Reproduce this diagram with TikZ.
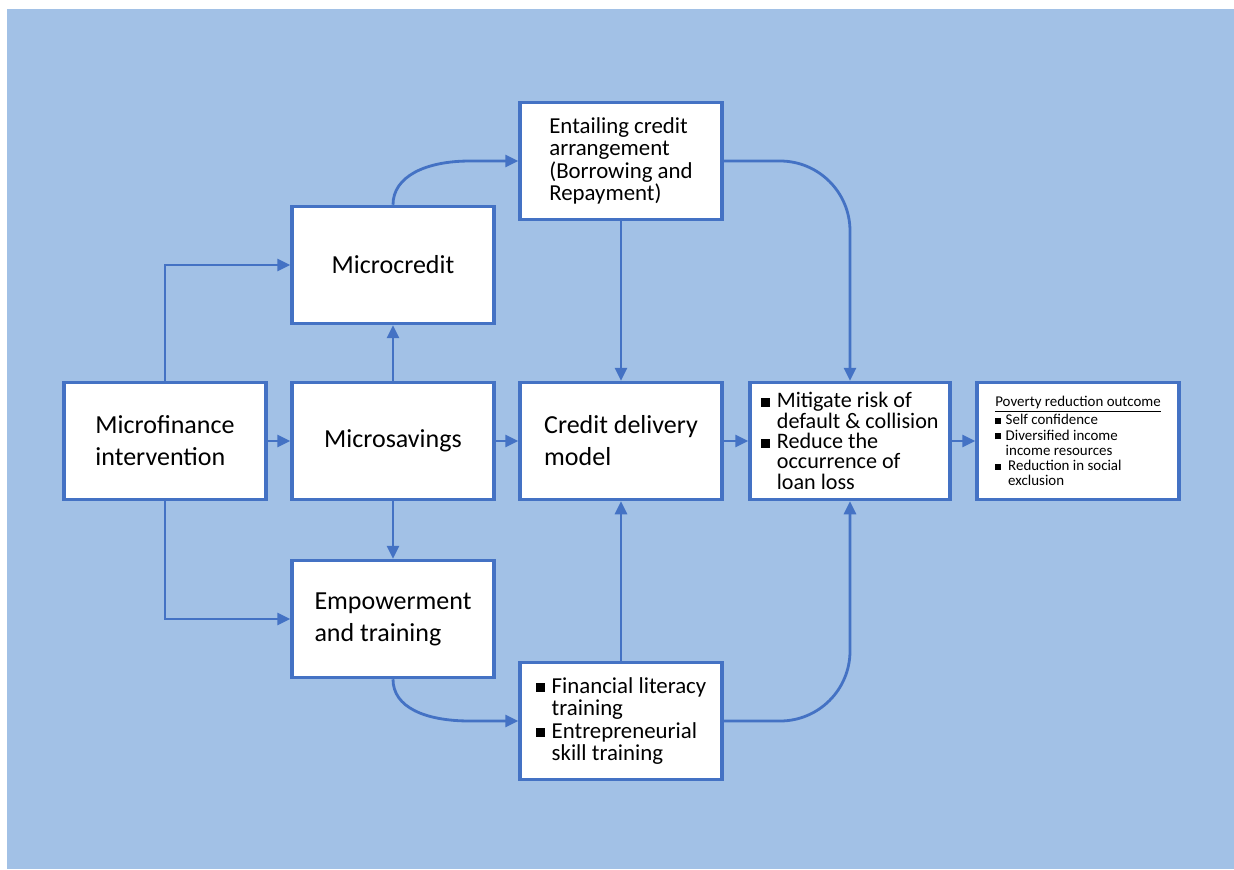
\documentclass[tikz,border=0pt]{standalone}
\usepackage{fontspec}
\setmainfont{Carlito}
\usetikzlibrary{arrows.meta}
\definecolor{bgblue}{RGB}{162,193,230}
\definecolor{lineblue}{RGB}{68,114,196}
\newcommand{\sqb}{\rule[0.1ex]{0.4em}{0.4em}\hspace{0.3em}}
\newcommand{\sqgap}{\phantom{\sqb}}

\begin{document}
\begin{tikzpicture}[x=0.02cm,y=-0.02cm,
  box/.style={draw=lineblue,line width=2pt,fill=white,minimum width=4.04cm,minimum height=2.34cm,inner sep=0pt,align=left,font=\fontsize{14.8}{18.2}\selectfont},
  smallbox/.style={box,font=\fontsize{13}{12.8}\selectfont},
  tinybox/.style={box,font=\fontsize{8.5}{8.6}\selectfont},
  link/.style={draw=lineblue,line width=1.6pt,-{Triangle[length=0.26cm,width=0.24cm]}}]

  % Background
  \useasboundingbox (0,0) rectangle (1234,869);
  \fill[bgblue] (7,9) rectangle (1234,869);

  % Left column
  \node[box] (mf) at (165,441) {Microfinance\\intervention};

  % Second column
  \node[box] (mc) at (393,265) {Microcredit};
  \node[box] (ms) at (393,441) {Microsavings};
  \node[box] (emp) at (393,619) {Empowerment\\and training};

  % Third column
  \node[smallbox] (ent) at (621,161) {Entailing credit\\arrangement\\(Borrowing and\\Repayment)};
  \node[box] (cdm) at (621,441) {Credit delivery\\model};
  \node[smallbox] (fin) at (621,721) {\sqb Financial literacy\\\sqgap training\\\sqb Entrepreneurial\\\sqgap skill training};

  % Outcomes
  \node[smallbox,minimum width=4cm,font=\fontsize{12.6}{11.6}\selectfont] (mit) at (850,441) {\sqb Mitigate risk of\\\sqgap default \& collision\\\sqb Reduce the\\\sqgap occurrence of\\\sqgap loan loss};
  \node[tinybox] (pov) at (1078,441) {\underline{Poverty reduction outcome}\\\sqb Self confidence\\\sqb Diversified income\\\sqgap income resources\\\sqb\,Reduction in social\\\sqgap\,exclusion};

  % Links from the intervention
  \draw[link] (mf.east) -- (ms.west);
  \draw[link] (mf.north) |- (mc.west);
  \draw[link] (mf.south) |- (emp.west);

  % Links from microsavings
  \draw[link] (ms.north) -- (mc.south);
  \draw[link] (ms.south) -- (emp.north);
  \draw[link] (ms.east) -- (cdm.west);

  % Curved links
  \draw[link] (mc.north) .. controls +(0,-28) and +(-45,0) .. (470,161) -- (ent.west);
  \draw[link] (emp.south) .. controls +(0,28) and +(-45,0) .. (470,721) -- (fin.west);
  \draw[link,rounded corners=1.4cm] (ent.east) -| (mit.north);
  \draw[link,rounded corners=1.4cm] (fin.east) -| (mit.south);

  % Into the delivery model
  \draw[link] (ent.south) -- (cdm.north);
  \draw[link] (fin.north) -- (cdm.south);
  \draw[link] (cdm.east) -- (mit.west);
  \draw[link] (mit.east) -- (pov.west);
\end{tikzpicture}
\end{document}
